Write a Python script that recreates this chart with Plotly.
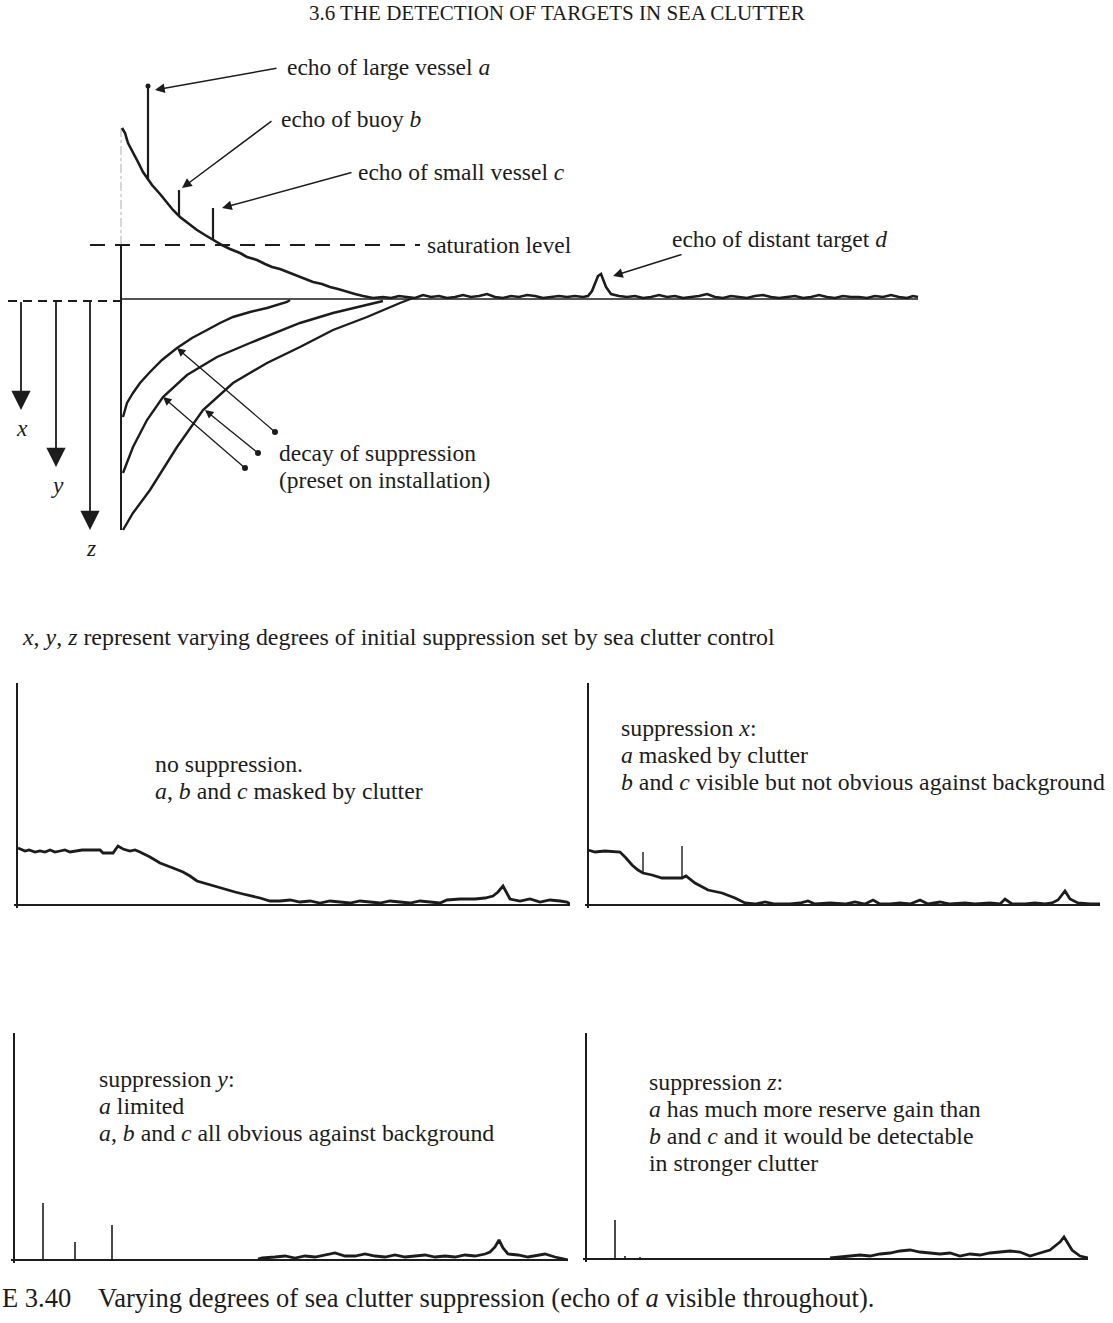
import plotly.graph_objects as go

FIG_W, FIG_H = 1113, 1323
INK = "#1c1c1c"
SERIF = "Liberation Serif, Times New Roman, serif"

# ---------------- main diagram: (range from display origin, amplitude above baseline)
main_clutter = [(1, 171), (4, 166), (7, 156), (12, 147), (17, 137), (22, 127), (27, 119), (31, 114),
                (39, 105), (46, 96), (52, 89), (59, 82), (67, 76), (76, 69), (84, 64), (92, 59),
                (101, 54), (109, 50), (119, 46), (126, 42), (136, 39), (144, 35), (151, 32), (159, 30),
                (169, 26), (179, 22), (192, 17), (201, 15), (209, 12), (217, 10), (226, 7), (234, 5),
                (242, 3), (252, 1), (262, 2), (270, 1), (278, 3), (286, 2), (294, 1), (302, 4), (310, 2),
                (318, 3), (326, 1), (334, 2), (342, 4), (350, 2), (358, 3), (366, 5), (374, 2), (382, 1),
                (390, 3), (398, 2), (406, 4), (414, 3), (422, 1), (430, 2), (438, 3), (446, 2), (454, 3),
                (462, 2), (467, 3), (471, 8), (474, 16), (477, 23), (480, 25), (482, 20), (485, 12),
                (490, 5), (498, 3), (506, 2), (514, 3), (522, 1), (530, 2), (538, 4), (546, 2), (554, 3),
                (562, 1), (570, 2), (578, 3), (586, 5), (594, 2), (602, 1), (610, 3), (618, 2), (626, 1),
                (634, 3), (642, 4), (650, 2), (658, 1), (666, 2), (674, 3), (682, 1), (690, 2), (698, 4),
                (706, 2), (714, 1), (722, 3), (730, 2), (738, 2), (746, 1), (754, 3), (762, 2), (770, 4),
                (778, 2), (786, 1), (792, 3), (797, 2)]

echo_names = ["a", "b", "c"]
echo_range = [27, 58, 92]
echo_base = [119, 83, 59]
echo_peak = [213, 109, 91]

saturation_level = 54
saturation_extent = [-31, 299]
baseline_extent = [0, 797]
suppression_origin = [-113, 0]

suppression_x = [(2, -118), (6, -104), (12, -94), (19, -84), (29, -73), (41, -61), (56, -49), (71, -39),
                 (86, -31), (99, -24), (112, -18), (129, -13), (146, -9), (159, -5), (166, -3), (169, -1)]
suppression_y = [(2, -174), (12, -148), (26, -121), (42, -98), (66, -76), (96, -58), (129, -44),
                 (179, -24), (212, -14), (246, -6), (262, -2)]
suppression_z = [(2, -231), (12, -214), (29, -191), (56, -148), (82, -111), (112, -84), (146, -64),
                 (179, -48), (212, -31), (246, -18), (279, -4), (292, 1)]

# initial suppression depth arrows x, y, z: (range, depth)
depth_names = ["x", "y", "z"]
depth_range = [-100, -65, -31]
depth_value = [-111, -168, -231]

# ---------------- small panels: (range, amplitude)
panel1_trace = [(1, 57), (5, 55), (8, 54), (12, 55), (18, 53), (23, 54), (28, 53), (33, 55), (38, 53),
                (43, 54), (48, 55), (53, 53), (58, 54), (65, 55), (73, 55), (83, 55), (86, 52), (96, 52),
                (101, 59), (106, 56), (113, 54), (118, 55), (123, 53), (133, 48), (143, 42), (150, 39),
                (156, 37), (166, 33), (173, 29), (180, 24), (193, 20), (200, 18), (210, 15), (218, 13),
                (226, 11), (235, 9), (243, 7), (253, 4), (263, 4), (273, 5), (283, 3), (293, 4), (303, 2),
                (313, 4), (323, 3), (333, 2), (343, 4), (353, 3), (363, 2), (373, 4), (383, 3), (393, 2),
                (403, 4), (413, 3), (423, 2), (430, 5), (443, 6), (458, 6), (468, 7), (476, 9), (481, 13),
                (486, 19), (490, 12), (493, 6), (503, 4), (513, 6), (523, 3), (533, 5), (543, 4), (550, 3),
                (553, 1)]
panel2_trace = [(0, 55), (7, 53), (17, 54), (27, 53), (32, 53), (38, 47), (44, 40), (50, 35), (55, 32),
                (64, 30), (74, 27), (84, 27), (94, 27), (98, 29), (107, 22), (120, 15), (134, 12), (147, 7),
                (157, 2), (167, 1), (177, 3), (187, 1), (202, 1), (212, 2), (220, 4), (227, 1), (242, 2),
                (257, 1), (267, 3), (277, 1), (285, 5), (292, 1), (302, 1), (312, 2), (322, 1), (332, 5),
                (340, 1), (352, 3), (362, 1), (377, 2), (387, 1), (402, 2), (412, 1), (417, 6), (424, 1),
                (437, 1), (447, 2), (457, 1), (464, 2), (470, 5), (477, 14), (482, 6), (490, 2), (502, 1),
                (512, 1)]
panel2_spikes = [(55, 32, 53), (94, 27, 59)]
panel3_trace = [(244, 1), (248, 2), (261, 3), (271, 4), (281, 2), (291, 4), (301, 3), (311, 5), (321, 7),
                (331, 4), (341, 4), (351, 6), (361, 4), (371, 3), (381, 5), (391, 3), (401, 4), (411, 5),
                (421, 3), (431, 4), (441, 3), (451, 5), (461, 4), (471, 6), (476, 8), (481, 13), (485, 20),
                (489, 12), (494, 6), (504, 5), (514, 3), (524, 5), (531, 6), (541, 3), (551, 1), (554, 0)]
panel3_spikes = [(29, 0, 57), (61, 0, 18), (98, 0, 35)]
panel4_trace = [(244, 1), (254, 2), (264, 3), (274, 4), (284, 3), (294, 5), (304, 6), (314, 8), (324, 9),
                (334, 7), (344, 6), (354, 5), (364, 6), (374, 3), (384, 5), (394, 4), (404, 6), (414, 7),
                (424, 8), (434, 7), (444, 3), (454, 6), (464, 9), (469, 13), (474, 17), (478, 22), (482, 15),
                (486, 9), (494, 3), (502, 1)]
panel4_spikes = [(29, 0, 39), (39, 0, 3), (54, 0, 2)]

panel_texts = [
    ["no suppression.", "<i>a</i>, <i>b</i> and <i>c</i> masked by clutter"],
    ["suppression <i>x</i>:", "<i>a</i> masked by clutter",
     "<i>b</i> and <i>c</i> visible but not obvious against background"],
    ["suppression <i>y</i>:", "<i>a</i> limited",
     "<i>a</i>, <i>b</i> and <i>c</i> all obvious against background"],
    ["suppression <i>z</i>:", "<i>a</i> has much more reserve gain than",
     "<i>b</i> and <i>c</i> and it would be detectable", "in stronger clutter"],
]

# ---------------- layout geometry (pixels)
# panel boxes: left, baseline, width, height
panel_boxes = [(17, 905, 553, 222), (588, 905, 512, 222), (14, 1260, 554, 227), (586, 1259, 502, 226)]
panel_text_pos = [(153, 764), (619, 728), (97, 1079), (647, 1082)]
LINE_GAP = 27
MAIN_TOP, MAIN_BOTTOM, MAIN_ORIGIN_X, MAIN_BASE_Y = 0, 600, 121, 299
FS = 23.5  # diagram label size
PS = 23.8  # panel text size


def px(x):
    return x / FIG_W


def py(y):
    return 1 - y / FIG_H


fig = go.Figure()


def add_curve(pts, xa, ya, width, color=INK, dash=None):
    fig.add_trace(go.Scatter(x=[p[0] for p in pts], y=[p[1] for p in pts], mode="lines",
                             line=dict(color=color, width=width, dash=dash, shape="linear"),
                             xaxis=xa, yaxis=ya, hoverinfo="skip", showlegend=False))


def add_spikes(xs, bases, tops, xa, ya, width):
    X, Y = [], []
    for x, b, t in zip(xs, bases, tops):
        X += [x, x, None]
        Y += [b, t, None]
    fig.add_trace(go.Scatter(x=X, y=Y, mode="lines", line=dict(color=INK, width=width),
                             xaxis=xa, yaxis=ya, hoverinfo="skip", showlegend=False))


# main diagram
add_curve([(baseline_extent[0], 0), (baseline_extent[1], 0)], "x", "y", 1.3)
add_curve([(suppression_origin[0], -2), (suppression_origin[1], -2)], "x", "y", 1.8, dash="9px,6px")
add_curve([(0, saturation_level), (0, min(p[1] for p in suppression_z))], "x", "y", 2)
add_curve([(0, saturation_level), (0, main_clutter[0][1])], "x", "y", 0.8, color="#999999", dash="dashdot")
add_curve([(saturation_extent[0], saturation_level), (saturation_extent[1], saturation_level)],
          "x", "y", 2, dash="15px,10px")
add_curve(main_clutter, "x", "y", 2.6)
add_spikes(echo_range, echo_base, echo_peak, "x", "y", 2.2)
fig.add_trace(go.Scatter(x=[echo_range[0]], y=[echo_peak[0]], mode="markers",
                         marker=dict(color=INK, size=5), xaxis="x", yaxis="y",
                         hoverinfo="skip", showlegend=False))
for curve in (suppression_x, suppression_y, suppression_z):
    add_curve(curve, "x", "y", 2.4)
add_spikes(depth_range, [-3] * 3, [v + 10 for v in depth_value], "x", "y", 1.8)

# panels
add_curve(panel1_trace, "x2", "y2", 2.8)
add_curve(panel2_trace, "x3", "y3", 2.8)
add_spikes([s[0] for s in panel2_spikes], [s[1] for s in panel2_spikes], [s[2] for s in panel2_spikes],
           "x3", "y3", 1.4)
add_curve(panel3_trace, "x4", "y4", 2.8)
add_spikes([s[0] for s in panel3_spikes], [s[1] for s in panel3_spikes], [s[2] for s in panel3_spikes],
           "x4", "y4", 1.6)
add_curve(panel4_trace, "x5", "y5", 2.8)
add_spikes([s[0] for s in panel4_spikes], [s[1] for s in panel4_spikes], [s[2] for s in panel4_spikes],
           "x5", "y5", 1.6)

# decay-arrow tail dots
decay_tails = [(154, -133), (137, -154), (124, -169)]
decay_heads = [(56, -49), (84, -111), (42, -98)]
fig.add_trace(go.Scatter(x=[t[0] for t in decay_tails], y=[t[1] for t in decay_tails], mode="markers",
                         marker=dict(color=INK, size=6), xaxis="x", yaxis="y",
                         hoverinfo="skip", showlegend=False))

layout = dict(
    width=FIG_W, height=FIG_H, margin=dict(l=0, r=0, t=0, b=0), autosize=False,
    paper_bgcolor="white", plot_bgcolor="rgba(0,0,0,0)", showlegend=False,
    xaxis=dict(domain=[0, 1], range=[-MAIN_ORIGIN_X, FIG_W - MAIN_ORIGIN_X], visible=False),
    yaxis=dict(domain=[py(MAIN_BOTTOM), py(MAIN_TOP)],
               range=[MAIN_BASE_Y - MAIN_BOTTOM, MAIN_BASE_Y - MAIN_TOP], visible=False),
)
for i, (left, base, w, h) in enumerate(panel_boxes, start=2):
    common = dict(showgrid=False, showticklabels=False, ticks="", showline=False,
                  zeroline=True, zerolinecolor=INK, zerolinewidth=2.2, fixedrange=True)
    layout[f"xaxis{i}"] = dict(domain=[px(left - 3), px(left + w)], range=[-3, w], anchor=f"y{i}", **common)
    layout[f"yaxis{i}"] = dict(domain=[py(base + 3), py(base - h)], range=[-3, h], anchor=f"x{i}", **common)
fig.update_layout(**layout)

ann = []


def text(t, x, y, xref="paper", yref="paper", size=FS, xanchor="left", color=INK, family=SERIF):
    ann.append(dict(text=t, x=x, y=y, xref=xref, yref=yref, showarrow=False, xanchor=xanchor,
                    yanchor="middle", font=dict(family=family, size=size, color=color)))


def arrow(tail, head, size=1.3, width=1.5, head_style=2):
    ann.append(dict(text="", x=head[0], y=head[1], ax=tail[0], ay=tail[1], xref="x", yref="y",
                    axref="x", ayref="y", showarrow=True, arrowhead=head_style, arrowsize=size,
                    arrowwidth=width, arrowcolor=INK, standoff=0))


# header and captions
text("3.6 THE DETECTION OF TARGETS IN SEA CLUTTER", px(557), py(13), size=21, xanchor="center")
text("<i>x</i>, <i>y</i>, <i>z</i> represent varying degrees of initial suppression set by sea clutter control",
     px(20), py(637), size=23.9)
text("E 3.40", px(0), py(1298), size=26.5)
text("Varying degrees of sea clutter suppression (echo of <i>a</i> visible throughout).",
     px(96), py(1298), size=26.5)

# main labels
text("echo of large vessel <i>a</i>", 164, 232, "x", "y")
text("echo of buoy <i>b</i>", 158, 180, "x", "y")
text("echo of small vessel <i>c</i>", 235, 127, "x", "y")
text("saturation level", 304, saturation_level, "x", "y")
text("echo of distant target <i>d</i>", 549, 60, "x", "y")
text("decay of suppression", 156, -154, "x", "y")
text("(preset on installation)", 156, -181, "x", "y")
for name, r, v in zip(depth_names, depth_range, depth_value):
    text(f"<i>{name}</i>", r + 1, v - 18, "x", "y", xanchor="center")

arrow((157, 231), (34, 209))
arrow((152, 179), (61, 111))
arrow((232, 127), (101, 91))
arrow((562, 45), (492, 23))
for t, h in zip(decay_tails, decay_heads):
    arrow(t, h, size=1.3, width=1.3)
for r, v in zip(depth_range, depth_value):
    arrow((r, v + 12), (r, v), size=2.4, width=1.6)

for lines, (tx, ty) in zip(panel_texts, panel_text_pos):
    for k, line in enumerate(lines):
        text(line, px(tx), py(ty + k * LINE_GAP), size=PS)

fig.update_layout(annotations=ann)
fig.write_html("out.html", config={"displayModeBar": False},
               post_script="document.body.style.margin='0';")
